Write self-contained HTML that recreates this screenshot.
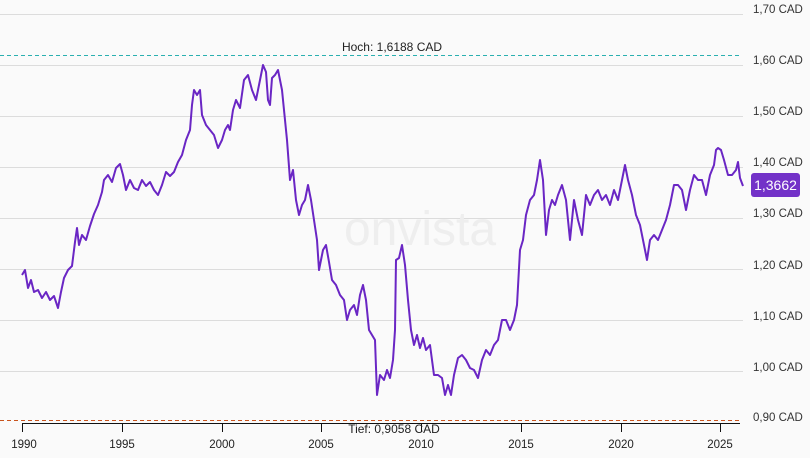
<!DOCTYPE html>
<html><head><meta charset="utf-8"><style>
body{margin:0;background:#fafafa;}
svg{display:block;font-family:"Liberation Sans",sans-serif;}
</style></head><body>
<svg width="810" height="458" viewBox="0 0 810 458" xmlns="http://www.w3.org/2000/svg">
<rect width="810" height="458" fill="#fafafa"/>
<g stroke="#dcdcdc" stroke-width="1">
<line x1="0" y1="14.5" x2="743" y2="14.5"/>
<line x1="0" y1="65.5" x2="743" y2="65.5"/>
<line x1="0" y1="116.5" x2="743" y2="116.5"/>
<line x1="0" y1="167.5" x2="743" y2="167.5"/>
<line x1="0" y1="218.5" x2="743" y2="218.5"/>
<line x1="0" y1="269.5" x2="743" y2="269.5"/>
<line x1="0" y1="320.5" x2="743" y2="320.5"/>
<line x1="0" y1="371.5" x2="743" y2="371.5"/>
</g>
<text x="420" y="245" font-size="48" fill="#eeeeee" text-anchor="middle">onvista</text>
<g font-size="11.5" fill="#333">
<text x="753" y="13">1,70 CAD</text>
<text x="753" y="64">1,60 CAD</text>
<text x="753" y="115">1,50 CAD</text>
<text x="753" y="166">1,40 CAD</text>
<text x="753" y="217">1,30 CAD</text>
<text x="753" y="269">1,20 CAD</text>
<text x="753" y="320">1,10 CAD</text>
<text x="753" y="371">1,00 CAD</text>
<text x="753" y="421">0,90 CAD</text>
</g>
<line x1="0" y1="55.5" x2="740" y2="55.5" stroke="#2ab0b0" stroke-dasharray="4,3"/>
<text x="392" y="51" font-size="12" fill="#222" text-anchor="middle">Hoch: 1,6188 CAD</text>
<line x1="0" y1="420.5" x2="740" y2="420.5" stroke="#c8541e" stroke-dasharray="4,3"/>
<line x1="22" y1="423.5" x2="740" y2="423.5" stroke="#111"/>
<g stroke="#111">
<line x1="22.5" y1="423" x2="22.5" y2="432"/><line x1="122.5" y1="423" x2="122.5" y2="432"/>
<line x1="222.5" y1="423" x2="222.5" y2="432"/><line x1="321.5" y1="423" x2="321.5" y2="432"/>
<line x1="421.5" y1="423" x2="421.5" y2="432"/><line x1="521.5" y1="423" x2="521.5" y2="432"/>
<line x1="621.5" y1="423" x2="621.5" y2="432"/><line x1="720.5" y1="423" x2="720.5" y2="432"/>
</g>
<g font-size="11.5" fill="#222" text-anchor="middle">
<text x="24" y="448">1990</text><text x="122" y="448">1995</text><text x="222" y="448">2000</text>
<text x="321" y="448">2005</text><text x="421" y="448">2010</text><text x="521" y="448">2015</text>
<text x="621" y="448">2020</text><text x="720" y="448">2025</text>
</g>
<text x="394" y="433" font-size="12" fill="#222" text-anchor="middle">Tief: 0,9058 CAD</text>
<polyline fill="none" stroke="#6a26c4" stroke-width="2" stroke-linejoin="round" points="22,275 25,270 28,288 31,280 34,292 38,290 42,298 46,292 50,300 54,296 58,308 61,292 64,278 68,270 72,266 75,242 77,228 79,245 82,235 86,240 90,226 94,214 98,205 102,192 104,180 108,175 112,182 116,168 120,164 123,175 126,190 130,180 134,188 138,190 142,180 146,186 150,182 154,190 158,195 162,185 166,172 170,176 174,172 178,162 182,155 186,140 190,130 192,105 194,90 197,95 200,90 202,115 206,125 210,130 214,135 218,148 222,140 225,130 228,125 230,130 233,110 236,100 240,108 244,80 248,75 252,90 256,100 260,80 263,65 266,72 268,100 270,105 272,78 275,75 278,70 282,90 284,110 287,140 290,180 293,170 296,200 299,215 302,205 305,200 308,185 311,200 314,220 317,240 319,270 321,260 323,250 326,245 329,262 332,280 336,285 340,295 344,300 347,320 350,310 354,305 357,315 360,295 363,285 366,300 369,330 372,335 375,340 377,395 380,375 384,380 387,370 390,378 393,360 395,330 396,260 399,258 402,245 405,265 408,300 411,330 414,345 417,335 420,348 423,338 426,350 430,345 434,375 438,375 442,378 445,395 448,385 451,395 454,375 458,358 462,355 466,360 470,368 474,370 478,378 482,360 486,350 490,355 494,345 498,340 502,320 506,320 510,330 514,320 517,305 520,250 523,240 526,215 530,200 534,195 537,180 540,160 543,180 546,235 549,210 552,200 555,205 558,195 562,185 566,200 570,240 574,200 578,220 582,235 586,195 590,205 594,195 598,190 602,200 606,195 610,205 614,190 618,200 622,180 625,165 628,180 632,195 636,215 640,225 644,245 647,260 650,240 654,235 658,240 662,230 666,220 670,205 674,185 678,185 682,190 686,210 690,190 694,175 698,180 702,180 706,195 710,175 714,165 716,150 718,148 721,150 724,160 728,175 732,175 736,170 738,162 740,178 743,186"/>
<rect x="751" y="173" width="49" height="24" rx="3" fill="#7332c8"/>
<text x="775.5" y="190" font-size="14" fill="#fff" text-anchor="middle">1,3662</text>
</svg>
</body></html>
